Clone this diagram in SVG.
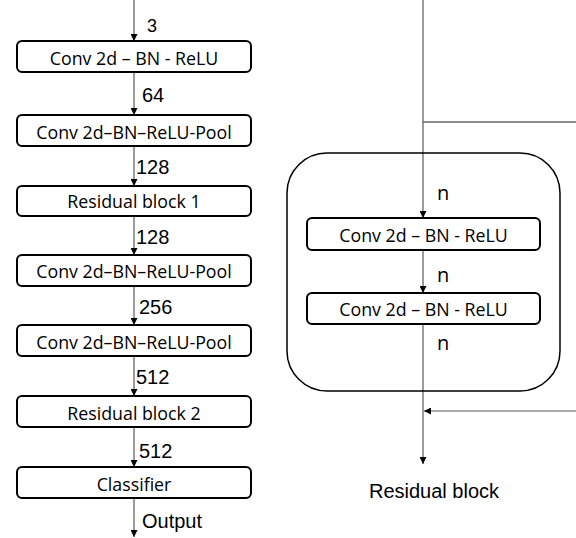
<svg xmlns="http://www.w3.org/2000/svg" width="576" height="538" viewBox="0 0 576 538">
  <style>
    .box { fill: #ffffff; stroke: #000000; stroke-width: 2; }
    .frame { fill: none; stroke: #000000; stroke-width: 1.5; }
    .lbl { font-family: "Open Sans", "Noto Sans", sans-serif; font-size: 17.8px; fill: #000000; text-anchor: middle; }
    .n { font-family: "Open Sans", "Noto Sans", sans-serif; font-size: 20px; fill: #000000; }
    .num { font-family: "Liberation Sans", Arial, sans-serif; font-size: 20px; fill: #000000; }
    .cap { font-family: "Liberation Sans", Arial, sans-serif; font-size: 20px; fill: #000000; }
    .wire { fill: none; stroke: #666666; stroke-width: 1.3; }
    .wire-light { fill: none; stroke: #aaaaaa; stroke-width: 2; }
  </style>
  <defs>
    <marker id="arrow" viewBox="0 0 10 10" refX="10" refY="5" markerWidth="7" markerHeight="7" markerUnits="userSpaceOnUse" orient="auto">
      <path d="M0,0 L10,5 L0,10 z" fill="#000000"/>
    </marker>
  </defs>

  <!-- connectors -->
  <g id="connectors">
    <line class="wire" x1="134" y1="0" x2="134" y2="41" marker-end="url(#arrow)"/>
    <line class="wire" x1="134" y1="72" x2="134" y2="115" marker-end="url(#arrow)"/>
    <line class="wire" x1="134" y1="146" x2="134" y2="186" marker-end="url(#arrow)"/>
    <line class="wire" x1="134" y1="216" x2="134" y2="255" marker-end="url(#arrow)"/>
    <line class="wire" x1="134" y1="286" x2="134" y2="325" marker-end="url(#arrow)"/>
    <line class="wire" x1="134" y1="356" x2="134" y2="396" marker-end="url(#arrow)"/>
    <line class="wire" x1="134" y1="427" x2="134" y2="467" marker-end="url(#arrow)"/>
    <line class="wire" x1="134" y1="498" x2="134" y2="537" marker-end="url(#arrow)"/>

    <!-- residual block paths -->
    <line class="wire" x1="423" y1="0" x2="423" y2="218" marker-end="url(#arrow)"/>
    <line class="wire" x1="423" y1="122" x2="576" y2="122"/>
    <line class="wire" x1="423" y1="250" x2="423" y2="293" marker-end="url(#arrow)"/>
    <line class="wire" x1="423" y1="324" x2="423" y2="464" marker-end="url(#arrow)"/>
    <line class="wire-light" x1="576" y1="411" x2="424" y2="411" marker-end="url(#arrow)"/>
  </g>

  <!-- channel labels -->
  <g id="channel-labels">
    <text class="num" x="147" y="32" style="font-size:18px">3</text>
    <text class="num" x="142" y="102">64</text>
    <text class="num" x="136" y="174">128</text>
    <text class="num" x="136" y="244">128</text>
    <text class="num" x="139" y="314">256</text>
    <text class="num" x="136" y="384">512</text>
    <text class="num" x="139" y="458">512</text>
    <text class="cap" x="142" y="528">Output</text>
  </g>

  <!-- main network -->
  <g id="conv1">
    <rect class="box" x="17" y="41" width="234" height="31" rx="5"/>
    <text class="lbl" x="134" y="65">Conv 2d – BN - ReLU</text>
  </g>
  <g id="conv2">
    <rect class="box" x="17" y="115" width="234" height="31" rx="5"/>
    <text class="lbl" x="134" y="139">Conv 2d–BN–ReLU-Pool</text>
  </g>
  <g id="res1">
    <rect class="box" x="17" y="186" width="234" height="30" rx="5"/>
    <text class="lbl" x="134" y="208">Residual block 1</text>
  </g>
  <g id="conv3">
    <rect class="box" x="17" y="255" width="234" height="31" rx="5"/>
    <text class="lbl" x="134" y="278">Conv 2d–BN–ReLU-Pool</text>
  </g>
  <g id="conv4">
    <rect class="box" x="17" y="325" width="234" height="31" rx="5"/>
    <text class="lbl" x="134" y="349">Conv 2d–BN–ReLU-Pool</text>
  </g>
  <g id="res2">
    <rect class="box" x="17" y="396" width="234" height="31" rx="5"/>
    <text class="lbl" x="134" y="420">Residual block 2</text>
  </g>
  <g id="classifier">
    <rect class="box" x="17" y="467" width="234" height="31" rx="5"/>
    <text class="lbl" x="134" y="491">Classifier</text>
  </g>

  <!-- residual block detail -->
  <g id="residual-frame">
    <rect class="frame" x="287" y="153" width="273" height="238" rx="40"/>
  </g>
  <g id="rb-conv1">
    <rect class="box" x="307" y="218" width="233" height="32" rx="5"/>
    <text class="lbl" x="423.5" y="242">Conv 2d – BN - ReLU</text>
  </g>
  <g id="rb-conv2">
    <rect class="box" x="307" y="293" width="233" height="31" rx="5"/>
    <text class="lbl" x="423.5" y="316">Conv 2d – BN - ReLU</text>
  </g>
  <g id="rb-labels">
    <text class="n" x="437" y="200">n</text>
    <text class="n" x="437" y="282">n</text>
    <text class="n" x="437" y="350">n</text>
    <text class="cap" x="434" y="498" text-anchor="middle">Residual block</text>
  </g>
</svg>
